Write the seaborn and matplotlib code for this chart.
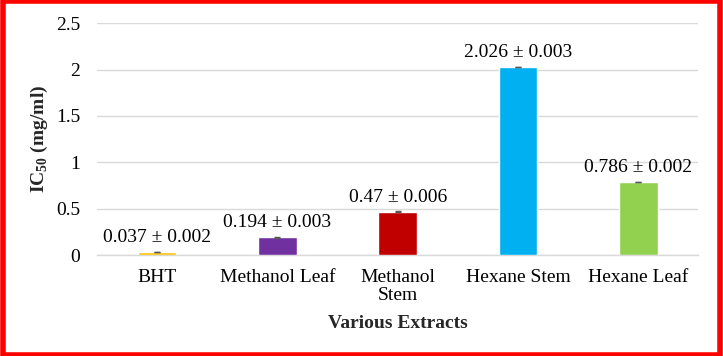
import matplotlib.pyplot as plt
import pandas as pd
import seaborn as sns
from matplotlib.patches import Rectangle

# Data
extracts = ["BHT", "Methanol Leaf", "Methanol\nStem", "Hexane Stem", "Hexane Leaf"]
ic50 = [0.037, 0.194, 0.47, 2.026, 0.786]
sd = [0.002, 0.003, 0.006, 0.003, 0.002]
value_labels = ["0.037 ± 0.002", "0.194 ± 0.003", "0.47 ± 0.006",
                "2.026 ± 0.003", "0.786 ± 0.002"]
bar_colors = ["#FFC000", "#7030A0", "#C00000", "#00B0F0", "#92D050"]
y_ticks = [0, 0.5, 1, 1.5, 2, 2.5]
y_tick_labels = ["0", "0.5", "1", "1.5", "2", "2.5"]


def main():
    df = pd.DataFrame({"Extract": extracts, "IC50": ic50, "SD": sd})

    sns.set_theme(style="white")
    plt.rcParams["font.family"] = ["Liberation Serif", "DejaVu Serif"]
    plt.rcParams["mathtext.fontset"] = "custom"
    plt.rcParams["mathtext.rm"] = "Liberation Serif"
    plt.rcParams["mathtext.bf"] = "Liberation Serif:bold"

    fig, ax = plt.subplots(figsize=(7.23, 3.56), dpi=100)
    fig.subplots_adjust(left=0.134, right=0.966, top=0.935, bottom=0.283)

    sns.barplot(data=df, x="Extract", y="IC50", hue="Extract",
                palette=bar_colors, saturation=1, width=0.32, legend=False,
                ax=ax, errorbar=None, zorder=3)
    ax.errorbar(range(len(ic50)), ic50, yerr=sd, fmt="none",
                ecolor="#595959", elinewidth=1, capsize=2.5, zorder=4)

    for i, (v, lab) in enumerate(zip(ic50, value_labels)):
        ax.text(i, v + 0.155, lab, ha="center", va="center",
                fontsize=14, color="black")

    ax.set_ylim(0, 2.5)
    ax.set_xlim(-0.5, len(extracts) - 0.5)
    ax.set_yticks(y_ticks)
    ax.set_yticklabels(y_tick_labels)
    ax.yaxis.grid(True, color="#D9D9D9", linewidth=1, zorder=0)
    ax.set_axisbelow(True)
    for s in ["top", "right", "left"]:
        ax.spines[s].set_visible(False)
    ax.spines["bottom"].set_color("#D9D9D9")
    ax.spines["bottom"].set_linewidth(1)
    ax.tick_params(axis="y", length=0, labelsize=14, colors="black", pad=12)
    ax.tick_params(axis="x", length=0, labelsize=14, colors="black", pad=10)
    for t in ax.get_xticklabels():
        t.set_linespacing(1.05)

    ax.set_xlabel("Various Extracts", fontsize=14, fontweight="bold", labelpad=8)
    ax.set_ylabel(r"IC$_{\mathbf{50}}$ (mg/ml)", fontsize=14, fontweight="bold",
                  labelpad=4)

    # red frame around the figure
    fig.patches.append(Rectangle((0.0035, 0.0035), 0.993, 0.993,
                                 transform=fig.transFigure, fill=False,
                                 edgecolor="#FF0000", linewidth=4))

    fig.savefig("out.png", dpi=100)


if __name__ == "__main__":
    main()
